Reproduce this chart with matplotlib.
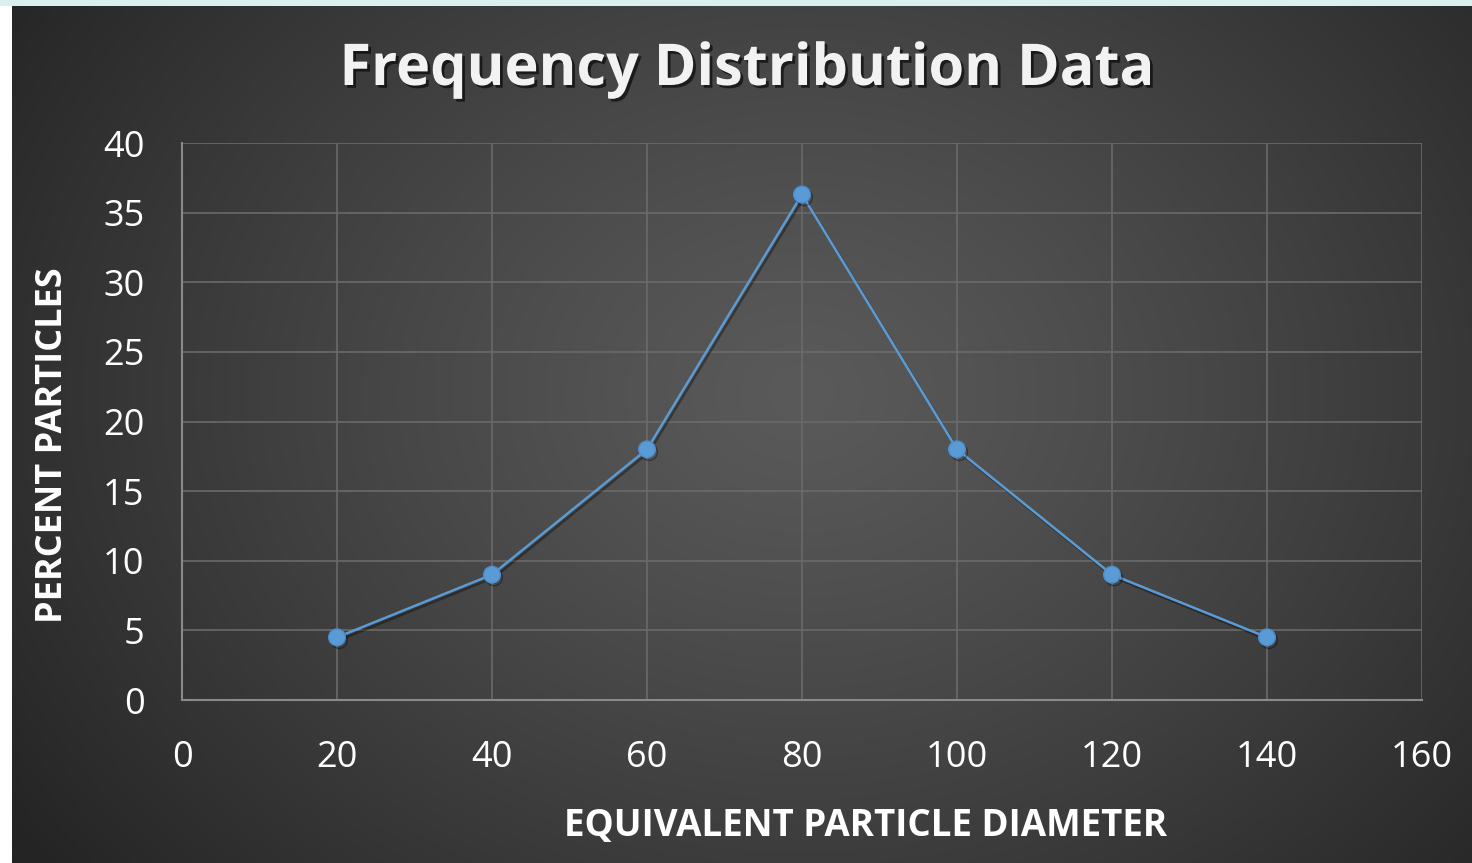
import numpy as np
import matplotlib
matplotlib.use("Agg")
import matplotlib.pyplot as plt
import matplotlib.patheffects as pe

diameters = [20, 40, 60, 80, 100, 120, 140]
percents = [4.5, 9, 18, 36.3, 18, 9, 4.5]
x_ticks = [0, 20, 40, 60, 80, 100, 120, 140, 160]
y_ticks = [0, 5, 10, 15, 20, 25, 30, 35, 40]
title = "Frequency Distribution Data"
xlabel = "EQUIVALENT PARTICLE DIAMETER"
ylabel = "PERCENT PARTICLES"

W, H = 1472, 863
fig = plt.figure(figsize=(W / 100, H / 100), dpi=100, facecolor="white")

# top light strip
strip = fig.add_axes([0, 1 - 6 / H, 1, 6 / H])
strip.axis("off")
strip.add_patch(plt.Rectangle((0, 0), 1, 1, color="#d9f0f0", transform=strip.transAxes))

# dark radial gradient panel
bg = fig.add_axes([12 / W, 0, 1 - 12 / W, 1 - 6 / H])
bg.axis("off")
ny, nx = 300, 500
yy, xx = np.mgrid[0:ny, 0:nx]
cx, cy = nx * 0.54, ny * 0.45
d = np.sqrt(((xx - cx) / (nx * 0.66)) ** 2 + ((yy - cy) / (ny * 0.9)) ** 2)
d = np.clip(d, 0, 1) ** 1.2
inner = np.array([0x5a, 0x5a, 0x5a]) / 255
outer = np.array([0x24, 0x24, 0x24]) / 255
img = inner[None, None, :] * (1 - d[..., None]) + outer[None, None, :] * d[..., None]
bg.imshow(img, aspect="auto", extent=[0, 1, 0, 1], origin="upper")
bg.set_xlim(0, 1)
bg.set_ylim(0, 1)

ax = fig.add_axes([182 / W, 1 - 700 / H, (1422 - 182) / W, (700 - 143) / H])
ax.patch.set_alpha(0)
ax.plot(diameters, percents, color="#5b9bd5", lw=1.8, marker="o", markersize=12,
        markerfacecolor="#5b9bd5", markeredgecolor="#4a8ccc", markeredgewidth=1,
        zorder=3,
        path_effects=[pe.SimpleLineShadow(offset=(1.5, -2), shadow_color="black", alpha=0.35), pe.Normal()])
ax.set_xlim(0, 160)
ax.set_ylim(0, 40)
ax.set_xticks(x_ticks)
ax.set_yticks(y_ticks)
ax.grid(True, color="#6a6a6a", lw=1.2)
ax.set_axisbelow(True)
for s in ["top", "right"]:
    ax.spines[s].set_visible(False)
for s in ["left", "bottom"]:
    ax.spines[s].set_color("#8a8a8a")
    ax.spines[s].set_linewidth(1.5)
ax.tick_params(length=0, labelsize=26, colors="white")
ax.tick_params(axis="y", pad=27)
ax.tick_params(axis="x", pad=29)
for lab in ax.get_xticklabels() + ax.get_yticklabels():
    lab.set_family("Open Sans")
    lab.set_fontweight("normal")

ax.set_xlabel(xlabel, family="Open Sans", fontweight="bold", fontsize=26.5, color="white")
ax.xaxis.set_label_coords((866 - 182) / (1422 - 182), -(826 - 700) / (700 - 143))
ax.xaxis.label.set_va("center")
ax.set_ylabel(ylabel, family="Open Sans", fontweight="bold", fontsize=26, color="white")
ax.yaxis.set_label_coords(-(182 - 53) / (1422 - 182), (700 - 445) / (700 - 143))
ax.yaxis.label.set_va("center")

fig.text(747 / W, 1 - 70 / H, title, ha="center", va="center", family="Open Sans",
         fontweight="bold", fontsize=41.5, color="#f2f2f2",
         path_effects=[pe.withSimplePatchShadow(offset=(2, -2), shadow_rgbFace="black", alpha=0.6)])

fig.savefig("out.png", dpi=100, facecolor="white")
